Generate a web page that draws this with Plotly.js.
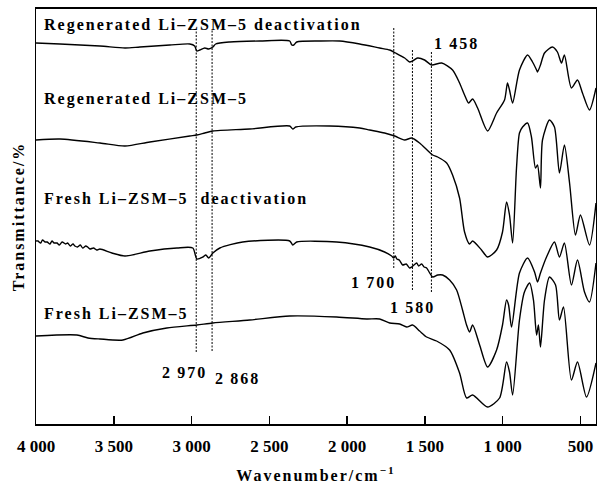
<!DOCTYPE html>
<html>
<head>
<meta charset="utf-8">
<script src="https://cdn.plot.ly/plotly-3.0.1.min.js"></script>
<style>
html,body{margin:0;padding:0;background:#fff;}
#chart{width:597px;height:488px;}
.annotation-text, .xtitle, .ytitle { letter-spacing: 2px; }
</style>
</head>
<body>
<div id="chart"></div>
<script>
// Regenerated Li-ZSM-5 deactivation
const wn1 = [4000,3846,3589,3428,3332,3140,3011,2980,2966,2947,2915,2890,2863,2845,2754,2561,2369,2356,2343,2324,2176,2048,1919,1791,1726,1688,1630,1598,1579,1547,1502,1457,1392,1322,1277,1245,1219,1193,1161,1097,1039,988,969,956,936,892,840,808,782,776,757,731,680,648,622,603,558,519,487,442,400];
const t1 = [381,380,378,376,377,379,380,378,373,374,376,375,377,380,382,383,383,379,379,382,383,383,380,376,374,371,366,362,363,366,364,359,361,354,341,329,321,325,316,293,311,324,341,334,321,354,369,362,354,352,359,371,377,372,361,369,336,344,331,314,336];
// Regenerated Li-ZSM-5
const wn2 = [4000,3846,3589,3428,3268,3011,2966,2915,2863,2626,2369,2349,2330,2112,1919,1855,1759,1694,1630,1585,1534,1450,1418,1360,1322,1277,1245,1213,1193,1136,1097,1039,1001,975,956,936,911,892,872,840,815,789,776,757,744,699,667,635,603,570,532,500,442,400];
const t2 = [284,285,281,278,282,288,289,291,293,295,298,295,297,298,296,294,291,288,284,286,281,269,267,261,249,226,192,180,183,174,167,174,192,222,209,181,256,291,297,301,287,256,259,236,284,304,297,251,279,241,189,209,179,221];
// Fresh Li-ZSM-5 deactivation
const wn3 = [4000,3988,3970,3958,3942,3928,3910,3897,3884,3865,3850,3832,3810,3797,3780,3762,3750,3733,3715,3700,3680,3668,3653,3630,3610,3589,3512,3428,3268,3094,2992,2966,2927,2908,2890,2863,2818,2671,2369,2349,2324,2067,1855,1759,1714,1700,1690,1680,1665,1643,1620,1598,1585,1570,1553,1540,1521,1505,1489,1450,1418,1386,1341,1296,1258,1232,1213,1193,1148,1097,1039,1001,975,962,943,892,840,795,776,757,718,667,635,603,558,519,474,442,400];
const t3 = [183,183,181,184,182,182,180,183,181,181,179,182,180,181,178,180,178,177,179,176,178,177,175,176,174,175,171,168,173,176,176,165,167,169,166,171,176,182,183,179,182,182,177,172,168,166,168,165,164,159,160,156,157,159,161,158,160,157,156,147,149,149,144,134,114,99,92,99,79,57,74,99,124,119,97,151,166,152,142,151,167,182,167,181,139,164,132,122,161];
// Fresh Li-ZSM-5
const wn4 = [4000,3737,3666,3589,3441,3313,3159,2966,2863,2626,2369,2067,1874,1791,1726,1662,1617,1579,1534,1489,1425,1341,1277,1232,1193,1097,1020,975,956,936,892,860,827,802,782,770,757,731,699,660,635,609,558,519,461,400];
const t4 = [88,89,86,85,84,91,96,99,101,104,108,107,105,105,101,100,97,99,93,87,83,74,51,26,29,17,26,62,52,29,104,132,141,124,89,99,77,124,147,139,104,117,44,62,27,61];

const seriesNames = ["Regenerated Li\u2013ZSM\u20135 deactivation","Regenerated Li\u2013ZSM\u20135","Fresh Li\u2013ZSM\u20135  deactivation","Fresh Li\u2013ZSM\u20135"];
const bandValues = [2970, 2868, 1700, 1580, 1458];
const bandLabels = ["2\u2009970","2\u2009868","1\u2009700","1\u2009580","1\u2009458"];
const tickValues = [4000,3500,3000,2500,2000,1500,1000,500];
const tickLabels = ["4 000","3 500","3 000","2 500","2 000","1 500","1 000","500"];

const FONT = "Liberation Serif, Times New Roman, serif";
const xs = [wn1, wn2, wn3, wn4], ys = [t1, t2, t3, t4];
const traces = xs.map((x, i) => ({
  x: x, y: ys[i], type: 'scatter', mode: 'lines', name: seriesNames[i],
  line: {color: '#000', width: 1.4, shape: 'spline', smoothing: 0.7},
  hoverinfo: 'skip', showlegend: false
}));

// vertical dashed marker lines: [y0, y1] extents
const bandExtents = [[72,394],[73,394],[156,397],[134,374],[132,372]];
const shapes = bandValues.map((v, i) => ({
  type: 'line', xref: 'x', yref: 'y', x0: v, x1: v,
  y0: bandExtents[i][0], y1: bandExtents[i][1],
  line: {color: '#000', width: 1, dash: '2px,1.5px'}
}));

const labelPos = [[3961,399],[3961,325],[3961,226],[3961,111]];
const annotations = seriesNames.map((s, i) => ({
  text: '<b>' + s + '</b>', x: labelPos[i][0], y: labelPos[i][1], xref: 'x', yref: 'y',
  xanchor: 'left', yanchor: 'middle', showarrow: false,
  font: {family: FONT, size: 16, color: '#000'}
}));
const bandLabelPos = [[3204,52],[2863,46],[1990,142],[1739,117],[1457,381]];
bandLabels.forEach((t, i) => annotations.push({
  text: '<b>' + t + '</b>', x: bandLabelPos[i][0], y: bandLabelPos[i][1], xref: 'x', yref: 'y',
  xanchor: 'left', yanchor: 'middle', showarrow: false,
  font: {family: FONT, size: 16, color: '#000'}
}));

const layout = {
  width: 597, height: 488,
  margin: {l: 36, r: 1, t: 9, b: 64},
  paper_bgcolor: '#fff', plot_bgcolor: '#fff',
  showlegend: false,
  xaxis: {
    range: [4000, 400], showgrid: false, zeroline: false,
    showline: true, linecolor: '#000', linewidth: 2, mirror: true,
    ticks: 'inside', ticklen: 8, tickwidth: 1.5, tickcolor: '#000',
    tickvals: tickValues, ticktext: tickLabels,
    tickfont: {family: FONT, size: 17, color: '#000', weight: 'bold'},
    ticklabelstandoff: 6,
    title: {text: 'Wavenumber/cm<sup>\u22121</sup>', font: {family: FONT, size: 16, color: '#000', weight: 'bold'}, standoff: 14},
    automargin: false
  },
  yaxis: {
    range: [0, 415], showgrid: false, zeroline: false,
    showline: true, linecolor: '#000', linewidth: 1.5, mirror: true,
    ticks: '', showticklabels: false,
    title: {text: 'Transmittance/%', font: {family: FONT, size: 16, color: '#000', weight: 'bold'}, standoff: 6},
    automargin: false
  },
  shapes: shapes,
  annotations: annotations
};

Plotly.newPlot('chart', traces, layout, {displayModeBar: false, staticPlot: true});
</script>
</body>
</html>
